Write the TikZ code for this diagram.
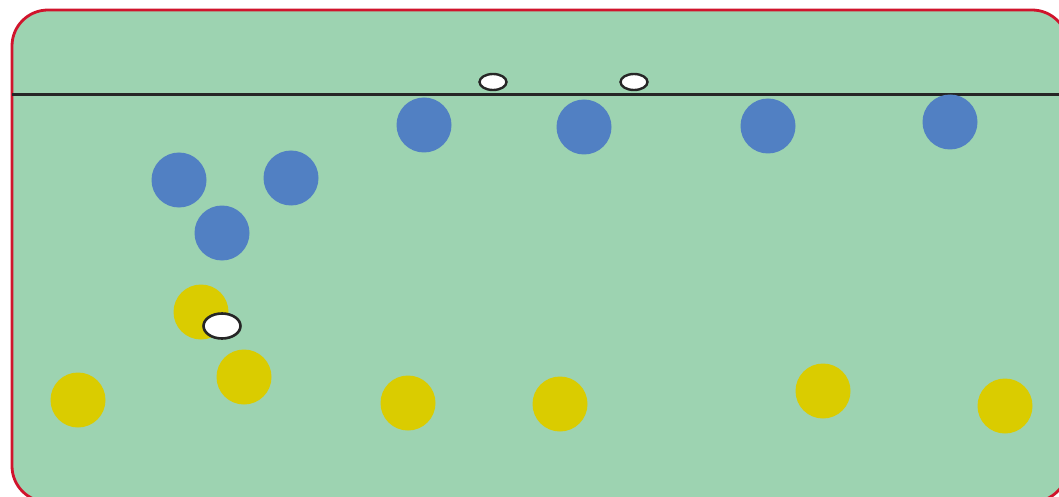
\documentclass[tikz,border=0pt]{standalone}
\usetikzlibrary{shapes.geometric}
\begin{document}
\begin{tikzpicture}[x=1pt,y=-1pt,
  blueb/.style={circle,fill=bcol,minimum size=55pt,inner sep=0pt},
  yellowb/.style={circle,fill=ycol,minimum size=55pt,inner sep=0pt},
  smallpuck/.style={ellipse,draw=black!85,line width=2.4pt,fill=white,minimum width=27pt,minimum height=16pt,inner sep=0pt},
  bigpuck/.style={ellipse,draw=black!85,line width=2.6pt,fill=white,minimum width=37pt,minimum height=25pt,inner sep=0pt}]
\definecolor{gcol}{HTML}{9DD3B1}
\definecolor{bcol}{HTML}{5180C3}
\definecolor{ycol}{HTML}{DACC00}
\definecolor{rcol}{HTML}{D0142C}
\useasboundingbox (0,0) rectangle (1059,497);
\clip (0,0) rectangle (1059,497);
\draw[fill=gcol,draw=rcol,line width=2.8pt,rounded corners=36pt] (12,10) rectangle (1068,502);
\coordinate (l0) at (12,95);
\coordinate (l1) at (1059,95);
\draw[black!85,line width=3pt] (l0) -- (l1);
\node[blueb] (b1) at (424,125) {};
\node[blueb] (b2) at (584,127) {};
\node[blueb] (b3) at (768,126) {};
\node[blueb] (b4) at (950,122) {};
\node[blueb] (b5) at (179,180) {};
\node[blueb] (b6) at (291,178) {};
\node[blueb] (b7) at (222,233) {};
\node[yellowb] (y1) at (201,312) {};
\node[yellowb] (y2) at (244,377) {};
\node[yellowb] (y3) at (78,400) {};
\node[yellowb] (y4) at (408,403) {};
\node[yellowb] (y5) at (560,404) {};
\node[yellowb] (y6) at (823,391) {};
\node[yellowb] (y7) at (1005,406) {};
\node[smallpuck] (p1) at (493,82) {};
\node[smallpuck] (p2) at (634,82) {};
\node[bigpuck] (p3) at (222,326) {};
\end{tikzpicture}
\end{document}
